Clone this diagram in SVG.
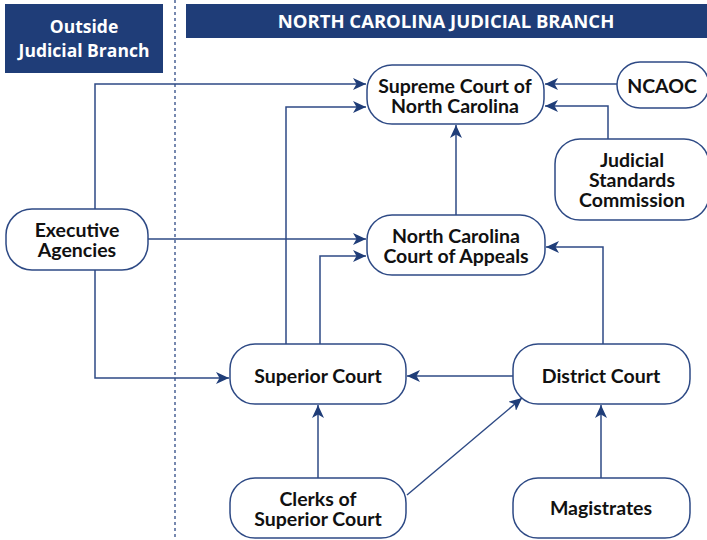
<svg xmlns="http://www.w3.org/2000/svg" width="707" height="540" viewBox="0 0 707 540">
<style>
.hdr{fill:#1f3d78}
.ht{fill:#fff;font-family:"Open Sans","DejaVu Sans",sans-serif;font-weight:700;text-anchor:middle}
.n rect{fill:#fff;stroke:#2e4a85;stroke-width:1.5}
.n text{font-family:Lato,"Noto Sans",sans-serif;font-weight:700;font-size:19.5px;fill:#111;text-anchor:middle}
.c path{fill:none;stroke:#2e4a85;stroke-width:1.5;marker-end:url(#a)}
</style>
<defs>
<marker id="a" markerUnits="userSpaceOnUse" markerWidth="14" markerHeight="12" viewBox="0 0 14 12" refX="13" refY="6" orient="auto">
<path d="M0,0 L13,6 L0,12 L3.5,6 z" fill="#1f3d78"/>
</marker>
</defs>
<rect width="707" height="540" fill="#fff"/>
<g id="header-outside">
<rect class="hdr" x="5" y="4" width="158" height="69"/>
<text class="ht" font-size="17.5"><tspan x="84" y="33">Outside</tspan><tspan x="84" y="57">Judicial Branch</tspan></text>
</g>
<g id="header-judicial">
<rect class="hdr" x="186" y="4" width="521" height="34"/>
<text class="ht" x="446" y="28" font-size="18.5">NORTH CAROLINA JUDICIAL BRANCH</text>
</g>
<line id="divider" x1="175" y1="0" x2="175" y2="540" stroke="#2e4a85" stroke-width="1.3" stroke-dasharray="3,3"/>
<g class="c" id="connectors">
<path d="M95,209 V84 H366"/>
<path d="M286,344 V107 H366"/>
<path d="M456,215 V125"/>
<path d="M617,84 H545"/>
<path d="M608,139 V106 H545"/>
<path d="M148,239 H366"/>
<path d="M320,344 V256 H366"/>
<path d="M603,344 V247 H546"/>
<path d="M95,270 V378 H229"/>
<path d="M513,376 H407"/>
<path d="M318,478 V405"/>
<path d="M407,495 L522,398"/>
<path d="M601,478 V405"/>
</g>
<g class="n" id="supreme-court"><rect x="367" y="65" width="177" height="59" rx="25"/><text><tspan x="455" y="93">Supreme Court of</tspan><tspan x="455" y="113">North Carolina</tspan></text></g>
<g class="n" id="ncaoc"><rect x="617" y="62" width="92" height="46" rx="23"/><text x="662" y="93">NCAOC</text></g>
<g class="n" id="judicial-standards"><rect x="555" y="139" width="154" height="81" rx="25"/><text><tspan x="632" y="167">Judicial</tspan><tspan x="632" y="187">Standards</tspan><tspan x="632" y="207">Commission</tspan></text></g>
<g class="n" id="executive-agencies"><rect x="6" y="209" width="142" height="61" rx="26"/><text><tspan x="77" y="237">Executive</tspan><tspan x="77" y="257">Agencies</tspan></text></g>
<g class="n" id="court-of-appeals"><rect x="367" y="215" width="178" height="60" rx="25"/><text><tspan x="456" y="243">North Carolina</tspan><tspan x="456" y="263">Court of Appeals</tspan></text></g>
<g class="n" id="superior-court"><rect x="230" y="344" width="176" height="60" rx="25"/><text x="318" y="383">Superior Court</text></g>
<g class="n" id="district-court"><rect x="513" y="344" width="177" height="60" rx="25"/><text x="601" y="383">District Court</text></g>
<g class="n" id="clerks"><rect x="230" y="478" width="176" height="60" rx="25"/><text><tspan x="318" y="506">Clerks of</tspan><tspan x="318" y="526">Superior Court</tspan></text></g>
<g class="n" id="magistrates"><rect x="513" y="478" width="177" height="60" rx="25"/><text x="601" y="515">Magistrates</text></g>
</svg>
